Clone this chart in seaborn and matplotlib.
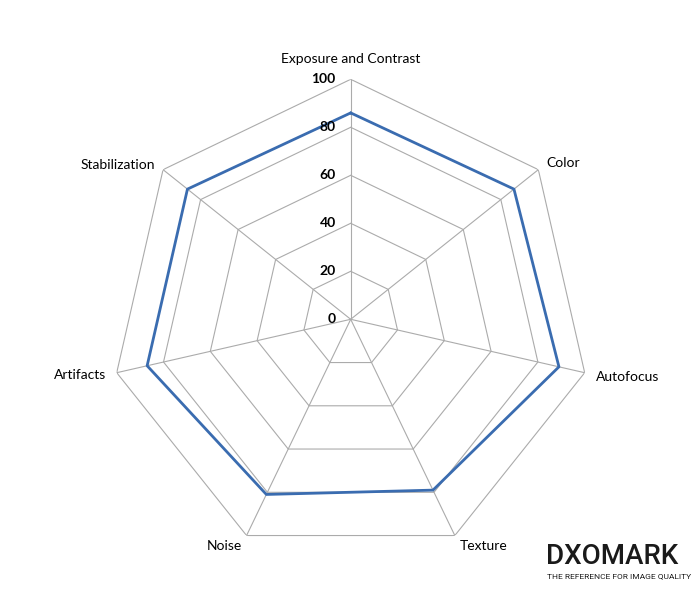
import numpy as np
import pandas as pd
import matplotlib
matplotlib.use("Agg")
import matplotlib.pyplot as plt
import seaborn as sns

categories = ["Exposure and Contrast", "Color", "Autofocus", "Texture",
              "Noise", "Artifacts", "Stabilization"]
scores = [86, 87, 89, 79, 81, 87, 87]
ring_values = [20, 40, 60, 80, 100]
tick_labels = ["0", "20", "40", "60", "80", "100"]

sns.set_theme(style="white")
plt.rcParams['font.family'] = ['Lato', 'DejaVu Sans']

fig = plt.figure(figsize=(7, 6), dpi=100)
R = 240
cx, cy = 350.7, 319.3
ax = fig.add_axes([(cx - R) / 700, (600 - cy - R) / 600, 2 * R / 700, 2 * R / 600],
                  projection='polar')
ax.set_theta_zero_location('N')
ax.set_theta_direction(-1)
ax.set_ylim(0, 100)
ax.grid(False)
ax.spines['polar'].set_visible(False)
ax.set_xticks([])
ax.set_yticks([])
ax.patch.set_alpha(0)

n = len(categories)
angles = np.arange(n) * 2 * np.pi / n
angles_closed = np.append(angles, 2 * np.pi)

grid_color = '#ABABAB'
for rv in ring_values:
    ax.plot(angles_closed, [rv] * (n + 1), color=grid_color, lw=0.8, zorder=1)
for a in angles:
    ax.plot([a, a], [0, 100], color=grid_color, lw=0.8, zorder=1)

df = pd.DataFrame({"angle": angles_closed, "score": scores + [scores[0]]})
sns.lineplot(data=df, x="angle", y="score", sort=False, ax=ax,
             color='#3A6CB0', lw=2.0, zorder=3)
ax.set_xlabel("")
ax.set_ylabel("")

# radial tick labels
for i, lab in enumerate(tick_labels):
    ax.annotate(lab, xy=(0, i * 20), xytext=(-15, 0), textcoords='offset pixels',
                ha='right', va='center', fontsize=10, fontweight='bold', color='black')

# category labels
label_offsets = [
    (0, 20, 'center'),
    (8, 7, 'left'),
    (11, -4, 'left'),
    (5, -10, 'left'),
    (-5, -10, 'right'),
    (-11, -2, 'right'),
    (-8, 5, 'right'),
]
for a, lab, (dx, dy, ha) in zip(angles, categories, label_offsets):
    ax.annotate(lab, xy=(a, 100), xytext=(dx, dy), textcoords='offset pixels',
                ha=ha, va='center', fontsize=10, color='black')

# logo
fig.text(546 / 700, 1 - 557 / 600, "DXOMARK", ha='left', va='center',
         fontsize=20, fontweight='medium', color='#1a1a1a',
         family=['Roboto', 'DejaVu Sans'])
fig.text(547 / 700, 1 - 576 / 600, "THE REFERENCE FOR IMAGE QUALITY", ha='left',
         va='center', fontsize=6, color='#1a1a1a', family=['Roboto', 'DejaVu Sans'])

fig.savefig("out.png", dpi=100, facecolor='white')
